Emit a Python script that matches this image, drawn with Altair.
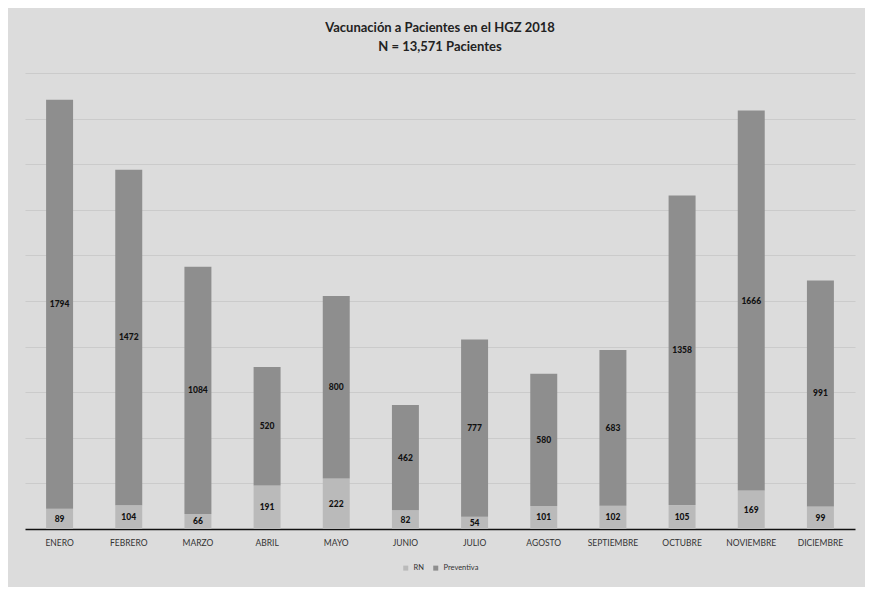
import altair as alt
import pandas as pd

meses = ["ENERO", "FEBRERO", "MARZO", "ABRIL", "MAYO", "JUNIO", "JULIO",
         "AGOSTO", "SEPTIEMBRE", "OCTUBRE", "NOVIEMBRE", "DICIEMBRE"]
rn = [89, 104, 66, 191, 222, 82, 54, 101, 102, 105, 169, 99]
preventiva = [1794, 1472, 1084, 520, 800, 462, 777, 580, 683, 1358, 1666, 991]
series = ["RN", "Preventiva"]
colores = ["#bababa", "#8e8e8e"]
grid_values = [200, 400, 600, 800, 1000, 1200, 1400, 1600, 1800, 2000]

rows = []
for i, m in enumerate(meses):
    rows.append({"mes": m, "serie": "RN", "orden": 0, "valor": rn[i]})
    rows.append({"mes": m, "serie": "Preventiva", "orden": 1, "valor": preventiva[i]})
df = pd.DataFrame(rows)

W, H = 830, 456

x_enc = alt.X(
    "mes:N", sort=meses, title=None,
    scale=alt.Scale(paddingInner=0.61, paddingOuter=0.305),
    axis=alt.Axis(labelAngle=0, labelFont="Lato", labelFontSize=8.5,
                  labelColor="#333333", domainColor="#111111", domainWidth=1.6,
                  ticks=False, labelPadding=9, grid=False),
)

base = alt.Chart(df)

bars = base.mark_bar().encode(
    x=x_enc,
    y=alt.Y("valor:Q", stack="zero", title=None,
            scale=alt.Scale(domain=[0, 2000], nice=False),
            axis=alt.Axis(values=grid_values, labels=False, ticks=False,
                          domain=False, gridColor="#cbcbcb", gridWidth=1)),
    color=alt.Color("serie:N",
                    scale=alt.Scale(domain=series, range=colores),
                    legend=alt.Legend(title=None, orient="none",
                                      legendX=W / 2 - 38, legendY=H + 35,
                                      direction="horizontal",
                                      symbolType="square", symbolSize=25,
                                      symbolStrokeWidth=0,
                                      labelFont="Lato", labelFontSize=7.5,
                                      labelColor="#333333",
                                      columnPadding=8)),
    order=alt.Order("orden:Q", sort="ascending"),
)

labels = base.transform_window(
    cum="sum(valor)", groupby=["mes"], sort=[alt.SortField("orden")],
    frame=[None, 0]
).transform_calculate(
    mid="datum.cum - datum.valor / 2"
).mark_text(
    font="Lato", fontSize=8.5, fontWeight=900, color="#111111"
).encode(
    x=alt.X("mes:N", sort=meses),
    y=alt.Y("mid:Q"),
    text=alt.Text("valor:Q", format="d"),
)

chart = alt.layer(bars, labels).properties(
    width=W, height=H,
    padding={"left": 17, "right": 10, "top": 14, "bottom": 15},
    title=alt.TitleParams(
        text=["Vacunación a Pacientes en el HGZ 2018", "N = 13,571 Pacientes"],
        font="Lato", fontSize=13, fontWeight="bold", color="#222222",
        lineHeight=19, anchor="middle", offset=19,
    ),
).configure(
    background="#dcdcdc",
).configure_view(
    stroke=None,
)

chart.save("out.html", embed_options={"renderer": "svg", "actions": False})
